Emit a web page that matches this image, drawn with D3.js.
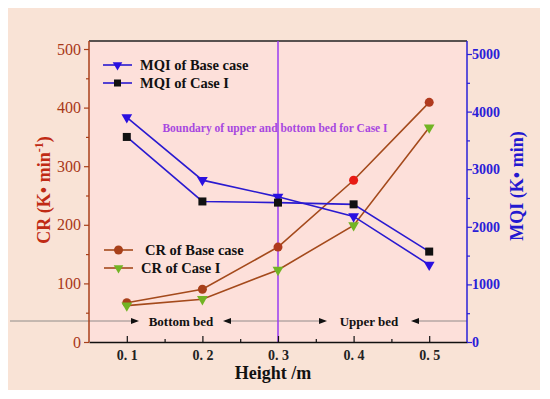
<!DOCTYPE html>
<html><head><meta charset="utf-8">
<script src="https://cdn.jsdelivr.net/npm/d3@7"></script>
<style>body{margin:0;background:#fff}svg{display:block}</style>
</head><body>
<script>
const heights = [0.1, 0.2, 0.3, 0.4, 0.5];
const mqiBase = [3900, 2810, 2520, 2180, 1340];
const mqiCase1 = [3560, 2440, 2420, 2390, 1570];
const crBase = [67, 90, 162, 276, 409];
const crCase1 = [62, 73, 123, 199, 366];
const xTickLabels = ["0. 1", "0. 2", "0. 3", "0. 4", "0. 5"];
const leftTicks = [0, 100, 200, 300, 400, 500];
const rightTicks = [0, 1000, 2000, 3000, 4000, 5000];

const W = 550, H = 399;
const svg = d3.select("body").append("svg").attr("width", W).attr("height", H);
const serif = "'Liberation Serif','DejaVu Serif',serif";

svg.append("rect").attr("x", 8).attr("y", 8).attr("width", 532).attr("height", 382).attr("fill", "#f9e3d6");

const L = 89, R = 467, T = 41, B = 342;
svg.append("rect").attr("x", L).attr("y", T).attr("width", R - L).attr("height", B - T).attr("fill", "#fde0da");

const x = d3.scaleLinear().domain([0.05, 0.55]).range([L, R]);
const yL = d3.scaleLinear().domain([0, 500]).range([B, 49]);
const yR = d3.scaleLinear().domain([0, 5000]).range([B, 54]);

// top border
svg.append("line").attr("x1", L).attr("x2", R).attr("y1", T).attr("y2", T).attr("stroke", "#222").attr("stroke-width", 1.5);

// bed divider line with arrows
const gy = 321;
const segs = [[10, 137], [225, 325], [413, R]];
segs.forEach(s => svg.append("line").attr("x1", s[0]).attr("x2", s[1]).attr("y1", gy).attr("y2", gy).attr("stroke", "#777").attr("stroke-width", 0.8));
function arrow(xp, dir) {
  svg.append("path").attr("d", `M${xp},${gy} L${xp - dir * 8},${gy - 3} L${xp - dir * 8},${gy + 3} Z`).attr("fill", "#111");
}
arrow(139, 1); arrow(223, -1); arrow(327, 1); arrow(411, -1);
svg.append("text").attr("x", 181).attr("y", gy + 5).attr("text-anchor", "middle").attr("font-family", serif).attr("font-weight", "bold").attr("font-size", 13).attr("fill", "#111").text("Bottom bed");
svg.append("text").attr("x", 369).attr("y", gy + 5).attr("text-anchor", "middle").attr("font-family", serif).attr("font-weight", "bold").attr("font-size", 13).attr("fill", "#111").text("Upper bed");

// boundary vertical line
svg.append("line").attr("x1", x(0.3)).attr("x2", x(0.3)).attr("y1", T).attr("y2", B).attr("stroke", "#9a3cf0").attr("stroke-width", 1.5);
svg.append("text").attr("x", 275).attr("y", 132).attr("text-anchor", "middle").attr("font-family", serif).attr("font-weight", "bold").attr("font-size", 11.5).attr("fill", "#a848e0").text("Boundary of upper and bottom bed for Case I");

// axes
const gx = svg.append("g").attr("transform", `translate(0,${B})`)
  .call(d3.axisBottom(x).tickValues(heights).tickSize(-6).tickFormat((d, i) => xTickLabels[i]).tickSizeOuter(0));
gx.select(".domain").attr("stroke", "#111").attr("stroke-width", 1.5);
gx.selectAll(".tick line").attr("stroke", "#111").attr("stroke-width", 1.2);
gx.selectAll("text").attr("font-family", serif).attr("font-size", 14).attr("font-weight", "bold").attr("fill", "#222").attr("dy", "1.05em");
svg.append("g").attr("transform", `translate(0,${B})`).call(d3.axisBottom(x).tickValues([0.15, 0.25, 0.35, 0.45]).tickSize(-3).tickFormat(""))
  .call(g => { g.select(".domain").remove(); g.selectAll("line").attr("stroke", "#111").attr("stroke-width", 1.2); });

const gl = svg.append("g").attr("transform", `translate(${L},0)`).call(d3.axisLeft(yL).tickValues(leftTicks).tickSize(5).tickSizeOuter(0).tickFormat(d3.format("d")));
gl.select(".domain").attr("d", `M0,${B}V${T}`).attr("stroke", "#a8401a").attr("stroke-width", 1.5);
gl.selectAll(".tick line").attr("stroke", "#a8401a").attr("stroke-width", 1.2);
gl.selectAll("text").attr("font-family", serif).attr("font-size", 16).attr("fill", "#a83818").attr("x", -8);
svg.append("g").attr("transform", `translate(${L},0)`).call(d3.axisLeft(yL).tickValues([50, 150, 250, 350, 450]).tickSize(3).tickFormat(""))
  .call(g => { g.select(".domain").remove(); g.selectAll("line").attr("stroke", "#a8401a").attr("stroke-width", 1.2); });

const gr = svg.append("g").attr("transform", `translate(${R},0)`).call(d3.axisRight(yR).tickValues(rightTicks).tickSize(5).tickSizeOuter(0).tickFormat(d3.format("d")));
gr.select(".domain").attr("d", `M0,${B}V${T}`).attr("stroke", "#2a20d8").attr("stroke-width", 1.5);
gr.selectAll(".tick line").attr("stroke", "#2a20d8").attr("stroke-width", 1.2);
gr.selectAll("text").attr("font-family", serif).attr("font-size", 14).attr("font-weight", "bold").attr("fill", "#2a20d8").attr("x", 5);
svg.append("g").attr("transform", `translate(${R},0)`).call(d3.axisRight(yR).tickValues([500, 1500, 2500, 3500, 4500]).tickSize(3).tickFormat(""))
  .call(g => { g.select(".domain").remove(); g.selectAll("line").attr("stroke", "#2a20d8").attr("stroke-width", 1.2); });

// axis titles
svg.append("text").attr("transform", "translate(50,190) rotate(-90)").attr("text-anchor", "middle").attr("font-family", serif).attr("font-weight", "bold").attr("font-size", 18).attr("fill", "#c02a14")
  .call(t => { t.append("tspan").text("CR (K• min"); t.append("tspan").attr("dy", -7).attr("font-size", 12).text("-1"); t.append("tspan").attr("dy", 7).text(")"); });
svg.append("text").attr("transform", "translate(523,186) rotate(-90)").attr("text-anchor", "middle").attr("font-family", serif).attr("font-weight", "bold").attr("font-size", 18).attr("fill", "#2418d0").text("MQI (K• min)");
svg.append("text").attr("x", 273).attr("y", 379).attr("text-anchor", "middle").attr("font-family", serif).attr("font-weight", "bold").attr("font-size", 18).attr("fill", "#111").text("Height /m");

// series
const blue = "#2a1ad0", brown = "#a44a1c";
function line(vals, ys, color) {
  svg.append("path").datum(vals).attr("fill", "none").attr("stroke", color).attr("stroke-width", 1.6)
    .attr("d", d3.line().x((d, i) => x(heights[i])).y(d => ys(d)));
}
function tris(vals, ys, color, sz) {
  svg.selectAll(null).data(vals).enter().append("path")
    .attr("d", d3.symbol().type(d3.symbolTriangle).size(sz))
    .attr("transform", (d, i) => `translate(${x(heights[i])},${ys(d)}) rotate(180)`).attr("fill", color);
}
line(crBase, yL, brown);
line(crCase1, yL, brown);
line(mqiBase, yR, blue);
line(mqiCase1, yR, blue);
const circColors = ["#a8401a", "#a8401a", "#b03a1e", "#e81a14", "#b03a1e"];
svg.selectAll(null).data(crBase).enter().append("circle")
  .attr("cx", (d, i) => x(heights[i])).attr("cy", d => yL(d)).attr("r", 4.5).attr("fill", (d, i) => circColors[i]);
tris(crCase1, yL, "#72b424", 50);
tris(mqiBase, yR, "#2a10e0", 50);
svg.selectAll(null).data(mqiCase1).enter().append("rect")
  .attr("x", (d, i) => x(heights[i]) - 4).attr("y", d => yR(d) - 4).attr("width", 8).attr("height", 8).attr("fill", "#111");

// legends
function legItem(y, x1, x2, color, marker, mcolor, label, tx) {
  svg.append("line").attr("x1", x1).attr("x2", x2).attr("y1", y).attr("y2", y).attr("stroke", color).attr("stroke-width", 1.6);
  const cx = (x1 + x2) / 2;
  if (marker === "tri") svg.append("path").attr("d", d3.symbol().type(d3.symbolTriangle).size(40)).attr("transform", `translate(${cx},${y}) rotate(180)`).attr("fill", mcolor);
  else if (marker === "sq") svg.append("rect").attr("x", cx - 3.5).attr("y", y - 3.5).attr("width", 7).attr("height", 7).attr("fill", mcolor);
  else svg.append("circle").attr("cx", cx).attr("cy", y).attr("r", 4.5).attr("fill", mcolor);
  svg.append("text").attr("x", tx).attr("y", y + 5).attr("font-family", serif).attr("font-weight", "bold").attr("font-size", 14.5).attr("fill", "#111").text(label);
}
legItem(65, 103, 132, blue, "tri", "#2a10e0", "MQI of Base case", 140);
legItem(83, 103, 132, blue, "sq", "#111", "MQI of Case I", 140);
legItem(250, 104, 133, brown, "circ", "#a8401a", "CR of Base case", 145);
legItem(268, 104, 133, brown, "tri", "#72b424", "CR of Case I", 141);
</script>
</body></html>
